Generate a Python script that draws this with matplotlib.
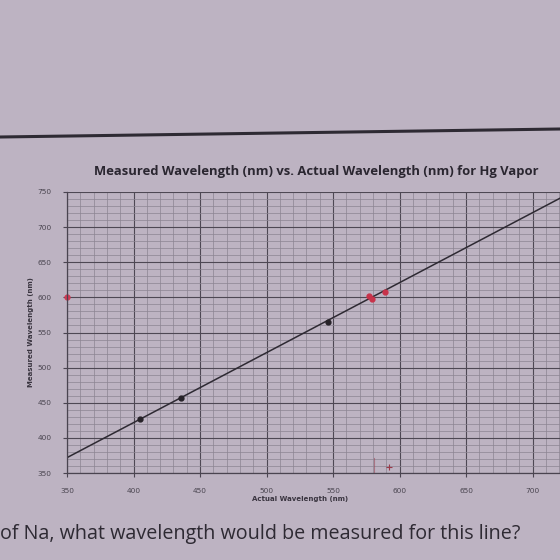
import numpy as np
import matplotlib.pyplot as plt
from matplotlib.lines import Line2D
from matplotlib.ticker import MultipleLocator

# Hg lines (actual nm) and what was measured
actual_hg = [404.7, 435.8, 546.1]
measured_hg = [427, 457, 565]

# red pen marks (yellow doublet + Na line)
actual_red = [577.0, 579.1, 589.0]
measured_red = [602, 598, 607]

# all Hg points used for the trendline
fit_x = actual_hg + actual_red[:2]
fit_y = measured_hg + measured_red[:2]

xticks = [350, 400, 450, 500, 550, 600, 650, 700]
yticks = [350, 400, 450, 500, 550, 600, 650, 700, 750]

paper = "#bdb3c2"
ink = "#2e2a33"

fig = plt.figure(figsize=(5.6, 5.6), dpi=100, facecolor=paper)
ax = fig.add_axes([67 / 560, 87 / 560, 532 / 560, 281 / 560])
ax.set_facecolor("none")

ax.set_xlim(350, 750)
ax.set_ylim(350, 750)
ax.set_xticks(xticks)
ax.set_yticks(yticks)
ax.xaxis.set_minor_locator(MultipleLocator(10))
ax.yaxis.set_minor_locator(MultipleLocator(10))
ax.grid(which="major", color="#4e4854", lw=0.8)
ax.grid(which="minor", color="#8c8492", lw=0.5)
ax.set_axisbelow(True)

for s in ["top", "right"]:
    ax.spines[s].set_visible(False)
for s in ["left", "bottom"]:
    ax.spines[s].set_color("#4a4450")
    ax.spines[s].set_linewidth(0.9)

ax.tick_params(which="major", direction="out", length=3, color="#4a4450",
               labelsize=5.3, labelcolor="#4a4550", pad=8)
ax.tick_params(which="minor", length=0)

# trendline
k, b = np.polyfit(fit_x, fit_y, 1)
xs = np.array([350, 750])
ax.plot(xs, k * xs + b, color=ink, lw=1.1)

ax.plot(actual_hg, measured_hg, "o", color="#262228", ms=3.5)
ax.plot(actual_red, measured_red, "o", color="#c8324a", ms=3.5)

# pen marks on the axes
ax.plot([350], [600], "o", color="#d03a55", ms=3.5, clip_on=False)
ax.plot([581, 581], [352, 372], color="#9a4a5a", lw=0.8, alpha=0.6)
ax.plot([592], [358], "+", color="#9a3a4a", ms=4, mew=0.8)

ax.set_xlabel("Actual Wavelength (nm)", fontsize=5, fontweight="bold",
              color="#3a3540")
ax.xaxis.set_label_coords((300 - 67) / 532, -23 / 281)
ax.set_ylabel("Measured Wavelength (nm)", fontsize=5, fontweight="bold",
              color="#3a3540")
ax.yaxis.set_label_coords(-33 / 532, 0.5)

fig.text(316 / 560, 1 - 172 / 560,
         "Measured Wavelength (nm) vs. Actual Wavelength (nm) for Hg Vapor",
         ha="center", va="center", fontsize=9.4, fontweight="bold",
         color="#2a2630", family="Open Sans")

# edge of the sheet above the chart
fig.add_artist(Line2D([0, 1], [1 - 137 / 560, 1 - 129 / 560],
                      color="#2e2a33", lw=2.2))

fig.text(0, 1 - 534 / 560,
         "of Na, what wavelength would be measured for this line?",
         ha="left", va="center", fontsize=14.2, color="#2e2a33",
         family="Open Sans")

fig.savefig("out.png", dpi=100, facecolor=paper)
